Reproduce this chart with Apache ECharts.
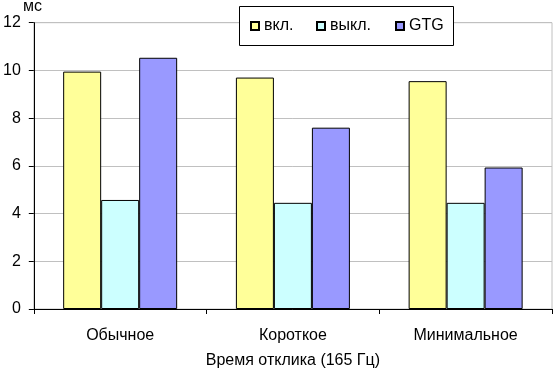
<!DOCTYPE html>
<html>
<head>
<meta charset="utf-8">
<script src="https://cdn.jsdelivr.net/npm/echarts@6/dist/echarts.min.js"></script>
<style>
html,body{margin:0;padding:0;background:#fff;}
#c{width:553px;height:374px;}
</style>
</head>
<body>
<div id="c"></div>
<script>
var categories = ['Обычное', 'Короткое', 'Минимальное'];
var seriesNames = ['вкл.', 'выкл.', 'GTG'];
var valsOn = [9.95, 9.7, 9.55];
var valsOff = [4.57, 4.45, 4.45];
var valsGTG = [10.53, 7.6, 5.93];
var yTicks = [0, 2, 4, 6, 8, 10, 12];
var yUnit = 'мс';
var xTitle = 'Время отклика (165 Гц)';

var FONT = 'Liberation Sans, Arial, sans-serif';
var colors = ['#FFFF99', '#CCFFFF', '#9999FF'];
var data = [valsOn, valsOff, valsGTG];

var chart = echarts.init(document.getElementById('c'), null, {renderer: 'canvas'});
var legendLefts = [250, 316, 395];
var option = {
  animation: false,
  backgroundColor: '#fff',
  textStyle: {fontFamily: FONT},
  grid: {left: 29, right: 1, top: 22.7, bottom: 59.7, show: true, borderColor: '#c0c0c0', borderWidth: 1, containLabel: false},
  graphic: [
    {type: 'rect', z: 3, shape: {x: 239.5, y: 6.5, width: 214, height: 39}, style: {fill: '#fff', stroke: '#000', lineWidth: 1}},
    {type: 'text', z: 3, left: 23, top: -1, style: {text: yUnit, fill: '#000', font: '16px ' + FONT}}
  ],
  legend: seriesNames.map(function (n, i) {
    return {
      data: [n], left: legendLefts[i], top: 18, padding: 0, itemWidth: 8, itemHeight: 8, z: 5,
      textStyle: {fontSize: 16, color: '#000', fontFamily: FONT},
      icon: 'rect', selectedMode: false
    };
  }),
  xAxis: {
    type: 'category', data: categories,
    axisLine: {lineStyle: {color: '#000', width: 1}},
    axisTick: {show: true, length: 5, lineStyle: {color: '#000'}, alignWithLabel: false},
    axisLabel: {fontSize: 16, color: '#000', margin: 19, fontFamily: FONT},
    name: xTitle, nameLocation: 'middle', nameGap: 44,
    nameTextStyle: {fontSize: 16, color: '#000', fontFamily: FONT}
  },
  yAxis: {
    type: 'value', min: yTicks[0], max: yTicks[yTicks.length - 1], interval: yTicks[1] - yTicks[0],
    axisLine: {show: true, lineStyle: {color: '#000', width: 1}},
    axisTick: {show: true, length: 5, lineStyle: {color: '#000'}},
    axisLabel: {fontSize: 16, color: '#000', margin: 13, fontFamily: FONT},
    splitLine: {show: true, lineStyle: {color: '#c0c0c0', width: 1}}
  },
  series: seriesNames.map(function (n, i) {
    return {
      name: n, type: 'bar', data: data[i],
      barGap: '0%', barCategoryGap: '34%',
      itemStyle: {color: colors[i], borderColor: '#000', borderWidth: 1}
    };
  })
};
chart.setOption(option);
</script>
</body>
</html>
